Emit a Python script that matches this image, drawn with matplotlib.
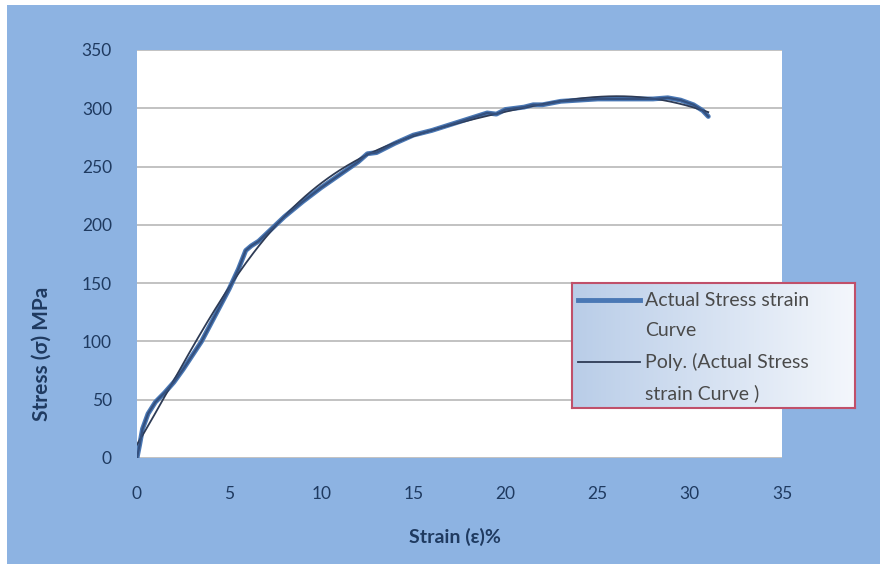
import numpy as np
import matplotlib.pyplot as plt
from matplotlib.patches import Rectangle
from matplotlib.lines import Line2D
from matplotlib.colors import LinearSegmentedColormap

# values
strain = [0, 0.15, 0.3, 0.6, 1.0, 1.5, 2.0, 2.5, 3.0, 3.5, 4.0, 4.5, 5.0, 5.5, 5.9,
          6.2, 6.6, 7.0, 8.0, 9.0, 10.0, 11.0, 12.0, 12.5, 13.0, 14.0, 15.0, 16.0,
          17.0, 18.0, 19.0, 19.5, 20.0, 21.0, 21.5, 22.0, 23.0, 24.0, 25.0, 26.0,
          27.0, 28.0, 28.8, 29.5, 30.2, 30.7, 31.0]
stress = [0, 12, 25, 38, 48, 56, 65, 76, 88, 100, 115, 130, 145, 162, 178,
          182, 186, 192, 207, 220, 232, 243, 254, 261, 262, 270, 277, 281,
          286, 291, 296, 295, 299, 301, 303, 303, 306, 307, 308, 308,
          308, 308, 309, 307, 303, 298, 293]
xticks = [0, 5, 10, 15, 20, 25, 30, 35]
yticks = [0, 50, 100, 150, 200, 250, 300, 350]
labels = [['Actual Stress strain', 'Curve'], ['Poly. (Actual Stress', 'strain Curve )']]

plt.rcParams['font.family'] = ['Lato', 'DejaVu Sans']
navy = '#1F3A60'
W, H = 890, 566

fig = plt.figure(figsize=(8.9, 5.66), dpi=100)
fig.patch.set_facecolor('white')
fig.patches.append(Rectangle((7 / W, 1 - 564 / H), 873 / W, 559 / H,
                             transform=fig.transFigure, facecolor='#8DB3E2',
                             edgecolor='none', zorder=-10))

ax = fig.add_axes([137 / W, 1 - 458 / H, 645 / W, 408 / H])
ax.set_facecolor('white')
ax.set_xlim(0, 35)
ax.set_ylim(0, 350)
ax.set_xticks(xticks)
ax.set_yticks(yticks)
ax.tick_params(length=0, labelsize=12.5, labelcolor=navy)
ax.tick_params(axis='x', pad=20)
ax.tick_params(axis='y', pad=18)
for s in ax.spines.values():
    s.set_visible(False)
ax.yaxis.grid(True, color='#BDBDBD', lw=1.3)
ax.set_axisbelow(True)

ax.plot(strain, stress, color='#4A78B5', lw=3.5, solid_capstyle='round')
coef = np.polyfit(strain, stress, 6)
xs = np.linspace(0, 31, 300)
ax.plot(xs, np.polyval(coef, xs), color='#2E3B55', lw=1.3)
ax.plot(strain, stress, color='#34507E', lw=1.6)

fig.text(455 / W, 1 - 537 / H, 'Strain (ε)%', fontsize=14, fontweight='bold',
         color=navy, ha='center', va='center')
fig.text(42 / W, 1 - 354 / H, 'Stress (σ) MPa', fontsize=15, fontweight='bold',
         color=navy, ha='center', va='center', rotation=90)

# legend box with gradient fill, entries placed by hand
lx0, ly0, lw, lh = 572, 283, 283, 125
lax = fig.add_axes([lx0 / W, 1 - (ly0 + lh) / H, lw / W, lh / H])
grad = np.linspace(0, 1, 256).reshape(1, -1)
lax.imshow(grad, cmap=LinearSegmentedColormap.from_list('g', ['#B9CDE8', '#F4F7FC']),
           aspect='auto', extent=[0, lw, lh, 0])
lax.set_xlim(0, lw)
lax.set_ylim(lh, 0)
lax.set_xticks([])
lax.set_yticks([])
for s in lax.spines.values():
    s.set_color('#C0506A')
    s.set_linewidth(1.5)

handles = [dict(color='#4A78B5', lw=3.5), dict(color='#2E3B55', lw=1.3)]
rows = [17, 79]
for y, lab, st in zip(rows, labels, handles):
    lax.add_line(Line2D([6, 68], [y, y], **st))
    lax.text(73, y, lab[0], fontsize=14, color='#4A4A4A', va='center')
    lax.text(73, y + 31, lab[1], fontsize=14, color='#4A4A4A', va='center')

fig.savefig('out.png', dpi=100)
